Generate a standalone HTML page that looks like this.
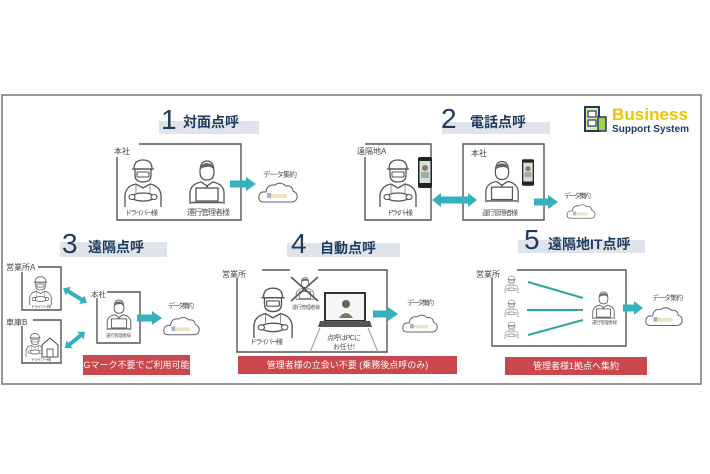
<!DOCTYPE html>
<html><head><meta charset="utf-8"><style>
html,body{margin:0;padding:0;background:#fff;}
svg{display:block;}
text{font-family:"Liberation Sans","Noto Sans CJK JP",sans-serif;}
</style></head><body>
<svg width="710" height="474" viewBox="0 0 710 474" xmlns="http://www.w3.org/2000/svg">
<defs>
<symbol id="drv" viewBox="0 0 40 50">
 <path d="M2,50 L2,38 Q3,29 13,27 L20,31 L27,27 Q37,29 38,38 L38,50" fill="#fff" stroke="#555" stroke-width="1.3"/>
 <path d="M12,12 L12,18 Q12,25 20,25 Q28,25 28,18 L28,12" fill="#fff" stroke="#555" stroke-width="1.3"/>
 <path d="M11,12 Q11,3 20,3 Q29,3 29,12 Z" fill="#fff" stroke="#555" stroke-width="1.3"/>
 <path d="M9,12 L31,12" stroke="#555" stroke-width="1.3"/>
 <rect x="14" y="15" width="12" height="5" rx="1" fill="#fff" stroke="#555" stroke-width="1.1"/>
 <path d="M13,28 L13,36 M27,28 L27,36" stroke="#777" stroke-width="0.8"/>
 <ellipse cx="20" cy="40" rx="11" ry="4" fill="none" stroke="#555" stroke-width="1.3"/>
 <ellipse cx="9" cy="40" rx="3" ry="2.5" fill="#fff" stroke="#555" stroke-width="1.1"/>
 <ellipse cx="31" cy="40" rx="3" ry="2.5" fill="#fff" stroke="#555" stroke-width="1.1"/>
</symbol>
<symbol id="mgr" viewBox="0 0 40 46">
 <path d="M3,46 L3,34 Q4,26 14,24 L20,28 L26,24 Q36,26 37,34 L37,46" fill="#fff" stroke="#555" stroke-width="1.3"/>
 <path d="M20,27 L18,32 L20,38 L22,32 Z" fill="#8796b0" stroke="#555" stroke-width="0.6"/>
 <path d="M13,14 Q13,3 20,3 Q27,3 27,14 Q27,22 20,22 Q13,22 13,14 Z" fill="#fff" stroke="#555" stroke-width="1.3"/>
 <path d="M13,12 Q14,5 20,5 Q26,5 27,12 Q24,8 20,9 Q15,9 13,12 Z" fill="#666"/>
 <rect x="9" y="30" width="22" height="13" fill="#fff" stroke="#555" stroke-width="1.3"/>
 <path d="M4,44.5 L36,44.5" stroke="#555" stroke-width="1.5"/>
</symbol>
<symbol id="phone" viewBox="0 0 14 31">
 <rect x="0" y="0" width="14" height="31" rx="2" fill="#222"/>
 <rect x="1.5" y="4" width="11" height="22" fill="#d6dfd6"/>
 <circle cx="7" cy="11" r="3" fill="#8a7a6a"/>
 <rect x="3" y="15" width="8" height="6" fill="#9ab0a0"/>
</symbol>
<symbol id="cloud" viewBox="0 0 40 22">
 <path d="M6,21 Q0,21 1,15 Q2,10 8,11 Q9,3 17,4 Q22,0 28,5 Q34,4 35,10 Q40,12 39,17 Q38,21 33,21 Z" fill="#fff" stroke="#666" stroke-width="1.1"/>
 <rect x="13" y="13" width="16" height="4" fill="#ece4c4"/>
 <rect x="9" y="12" width="4" height="5" fill="#9bb3cf"/>
</symbol>
</defs>

<!-- outer frame -->
<rect x="2" y="95" width="699" height="289" fill="#fff" stroke="#777" stroke-width="1.5"/>

<g fill="none" stroke="#555" stroke-width="1.4">
 <!-- sec1 box -->
 <path d="M139,144 L241,144 L241,220 L117,220 L117,157"/>
 <!-- sec2 boxes -->
 <path d="M365,144 L431,144 L431,220 L365,220 L365,157"/>
 <path d="M463,144 L544,144 L544,220 L463,220 Z"/>
 <!-- sec3 boxes -->
 <path d="M38,267 L61,267 L61,310 L22,310 L22,272"/>
 <path d="M33,320 L61,320 L61,363 L22,363 L22,326"/>
 <path d="M107,292 L140,292 L140,343 L97,343 L97,298"/>
 <!-- sec4 box -->
 <path d="M262,270 L290,270 M318,270 L387,270 L387,352 L237,352 L237,278"/>
 <!-- sec5 box -->
 <path d="M517,270 L626,270 L626,346 L492,346 L492,278"/>
</g>

<!-- title bars -->
<rect x="159" y="121" width="100" height="13" fill="#dfe4eb"/>
<rect x="442" y="122" width="108" height="12" fill="#dfe4eb"/>
<rect x="60" y="242" width="107" height="15" fill="#dfe4eb"/>
<rect x="287" y="243" width="113" height="14" fill="#dfe4eb"/>
<rect x="518" y="240" width="127" height="13" fill="#dfe4eb"/>

<g fill="#1f3a5c">
 <text x="161" y="129" font-size="28">1</text>
 <text x="183" y="127" font-size="14" font-weight="bold">対面点呼</text>
 <text x="441" y="128" font-size="28">2</text>
 <text x="470" y="127" font-size="14" font-weight="bold">電話点呼</text>
 <text x="62" y="253" font-size="28">3</text>
 <text x="88" y="252" font-size="14" font-weight="bold">遠隔点呼</text>
 <text x="291" y="253" font-size="28">4</text>
 <text x="320" y="253" font-size="14" font-weight="bold">自動点呼</text>
 <text x="524" y="249" font-size="28">5</text>
 <text x="548" y="249" font-size="14" font-weight="bold">遠隔地IT点呼</text>
</g>

<!-- logo -->
<rect x="585" y="107" width="14" height="24" fill="#e6ea9a" stroke="#1d3a6b" stroke-width="2"/>
<rect x="588" y="111" width="8" height="6" fill="#fff" stroke="#1d3a6b" stroke-width="1.2"/>
<rect x="588" y="120" width="8" height="6" fill="#fff" stroke="#1d3a6b" stroke-width="1.2"/>
<rect x="598" y="117" width="8" height="14" fill="#a7cf4f" stroke="#1d3a6b" stroke-width="1.5"/>
<text x="612" y="120" font-size="17" font-weight="bold" fill="#efc400" textLength="76">Business</text>
<text x="612" y="132" font-size="10" font-weight="bold" fill="#1d3a6b" textLength="77">Support System</text>

<g fill="#444" font-size="8">
 <text x="114" y="154">本社</text>
 <text x="357" y="154">遠隔地A</text>
 <text x="471" y="156">本社</text>
 <text x="6" y="270">営業所A</text>
 <text x="6" y="325">車庫B</text>
 <text x="91" y="297" font-size="7.5">本社</text>
 <text x="222" y="277">営業所</text>
 <text x="476" y="277">営業所</text>
</g>

<!-- figures sec1 -->
<use href="#drv" x="123" y="157" width="40" height="50"/>
<use href="#mgr" x="187" y="158" width="40" height="46"/>
<!-- sec2 -->
<use href="#drv" x="378" y="157" width="40" height="50"/>
<use href="#phone" x="418" y="157" width="14" height="31"/>
<use href="#mgr" x="483" y="158" width="38" height="45"/>
<use href="#phone" x="522" y="157" width="12" height="31"/>
<!-- sec3 -->
<use href="#drv" x="28" y="275" width="25" height="30"/>
<use href="#drv" x="25" y="332" width="20" height="25"/>
<path d="M42,345 L50,338 L58,345 L58,357 L42,357 Z" fill="#fff" stroke="#555" stroke-width="1.1"/>
<rect x="47" y="349" width="6" height="8" fill="none" stroke="#555" stroke-width="0.9"/>
<use href="#mgr" x="105" y="298" width="28" height="32"/>
<!-- sec4 -->
<use href="#drv" x="248" y="285" width="50" height="53"/>
<g>
 <use href="#mgr" x="293" y="276" width="24" height="24"/>
 <path d="M291,277 L318,301 M318,277 L291,301" stroke="#555" stroke-width="1.6"/>
</g>
<rect x="325" y="293" width="40" height="28" fill="#f4f6f8" stroke="#333" stroke-width="2"/>
<circle cx="346" cy="304" r="4" fill="#665" />
<path d="M339,318 Q346,308 353,318 Z" fill="#776"/>
<path d="M320,321 L370,321 L372,327 L318,327 Z" fill="#555"/>
<path d="M320,328 L310,352 M368,328 L378,352" stroke="#999" stroke-width="1"/>
<!-- sec5 -->
<use href="#drv" x="503" y="275" width="17" height="18"/>
<use href="#drv" x="503" y="299" width="17" height="18"/>
<use href="#drv" x="503" y="321" width="17" height="18"/>
<g stroke="#2fa79e" stroke-width="2">
 <path d="M528,282 L583,298"/>
 <path d="M527,310 L583,310"/>
 <path d="M528,335 L583,320"/>
</g>
<use href="#mgr" x="590" y="290" width="27" height="29"/>

<!-- small labels -->
<g fill="#555">
 <text x="125" y="215" font-size="7" textLength="33">ドライバー様</text>
 <text x="187" y="215" font-size="8" textLength="43">運行管理者様</text>
 <text x="387" y="215" font-size="7" textLength="26">ドライバー様</text>
 <text x="482" y="215" font-size="7" textLength="36">運行管理者様</text>
 <text x="31" y="308" font-size="4" textLength="20">ドライバー様</text>
 <text x="31" y="361" font-size="4" textLength="20">ドライバー様</text>
 <text x="106" y="337" font-size="4.5" textLength="25">運行管理者様</text>
 <text x="250" y="344" font-size="7" textLength="33">ドライバー様</text>
 <text x="292" y="309" font-size="5" textLength="28">運行管理者様</text>
 <text x="327" y="340" font-size="7" textLength="34">点呼はPCに</text>
 <text x="333" y="349" font-size="7" textLength="22">お任せ!</text>
 <text x="592" y="324" font-size="4.5" textLength="25">運行管理者様</text>
 <text x="263" y="177" font-size="7.5" textLength="34">データ集約</text>
 <text x="564" y="198" font-size="7" textLength="27">データ集約</text>
 <text x="168" y="308" font-size="7" textLength="26">データ集約</text>
 <text x="407" y="305" font-size="7" textLength="27">データ集約</text>
 <text x="652" y="300" font-size="7" textLength="31">データ集約</text>
</g>

<!-- clouds -->
<use href="#cloud" x="258" y="181" width="40" height="22"/>
<use href="#cloud" x="562" y="203" width="38" height="16"/>
<use href="#cloud" x="163" y="315" width="37" height="21"/>
<use href="#cloud" x="402" y="313" width="36" height="20"/>
<use href="#cloud" x="645" y="304" width="38" height="24"/>

<!-- arrows -->
<g fill="#33b1bd">
 <polygon points="230,180.5 246,180.5 246,177 256,184 246,191 246,187.5 230,187.5"/>
 <polygon points="432,200 441,193 441,196.5 468,196.5 468,193 477,200 468,207 468,203.5 441,203.5 441,207"/>
 <polygon points="534,198.5 548,198.5 548,195 558,202 548,209 548,205.5 534,205.5"/>
 <polygon points="137,314.5 152,314.5 152,311 162,318 152,325 152,321.5 137,321.5"/>
 <polygon points="373,310.5 388,310.5 388,307 398,314 388,321 388,317.5 373,317.5"/>
 <polygon points="623,304.5 634,304.5 634,301 643,308 634,315 634,311.5 623,311.5"/>
 <polygon transform="translate(75,295.5) rotate(32)" points="-14,0 -8,-5 -8,-2 8,-2 8,-5 14,0 8,5 8,2 -8,2 -8,5"/>
 <polygon transform="translate(75,340) rotate(-38.7)" points="-13,0 -7,-5 -7,-2 7,-2 7,-5 13,0 7,5 7,2 -7,2 -7,5"/>
</g>

<!-- banners -->
<rect x="83" y="355" width="107" height="20" fill="#c9474d"/>
<text x="136.5" y="368" font-size="9" fill="#fff" text-anchor="middle">Gマーク不要でご利用可能</text>
<rect x="238" y="356" width="219" height="18" fill="#c9474d"/>
<text x="347.5" y="368" font-size="9" fill="#fff" text-anchor="middle">管理者様の立会い不要 (乗務後点呼のみ)</text>
<rect x="505" y="357" width="142" height="18" fill="#c9474d"/>
<text x="576" y="369" font-size="9" fill="#fff" text-anchor="middle">管理者様1拠点へ集約</text>
</svg>
</body></html>
